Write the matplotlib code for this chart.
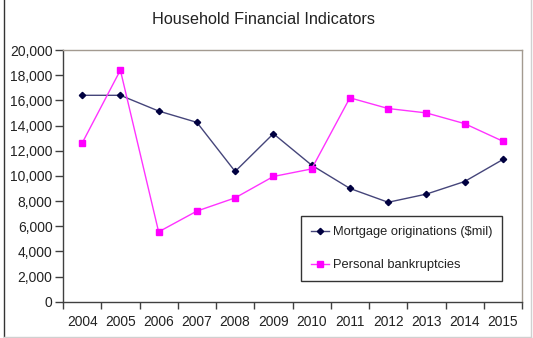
import matplotlib.pyplot as plt
import numpy as np
from matplotlib.lines import Line2D
from matplotlib.ticker import FuncFormatter, FixedLocator

plt.rcParams['font.family'] = ['Liberation Sans', 'DejaVu Sans']

years = ['2004', '2005', '2006', '2007', '2008', '2009',
         '2010', '2011', '2012', '2013', '2014', '2015']
mortgage = [16400, 16400, 15150, 14250, 10350, 13350,
            10850, 9000, 7900, 8550, 9550, 11300]
bankruptcies = [12600, 18400, 5550, 7200, 8250, 9950,
                10550, 16200, 15350, 15000, 14150, 12750]

text_col = '#222222'
W, H = 533, 338

fig = plt.figure(figsize=(W / 100, H / 100), dpi=100)
fig.patch.set_facecolor('white')

# outer chart frame
fig.add_artist(Line2D([3.5 / W, 3.5 / W], [0, 1], color='#333333', lw=1.0))
fig.add_artist(Line2D([531 / W, 531 / W], [0, 1], color='#d0d0d0', lw=1.0))
fig.add_artist(Line2D([3.5 / W, 531 / W], [0.8 / H, 0.8 / H], color='#d0d0d0', lw=1.0))

ax = fig.add_axes([63 / W, (H - 301.7) / H, (522 - 63) / W, (301.7 - 50) / H])
x = np.arange(len(years))

ax.plot(x, mortgage, color='#45457a', lw=1.0, marker='D', ms=3.2,
        mfc='#000040', mec='#000040', label='Mortgage originations ($mil)')
ax.plot(x, bankruptcies, color='#ff33ff', lw=1.0, marker='s', ms=4.0,
        mfc='#ff00ff', mec='#ff00ff', label='Personal bankruptcies')

ax.set_xlim(-0.5, len(years) - 0.5)
ax.set_ylim(0, 20000)
ax.set_yticks(np.arange(0, 20001, 2000))
ax.yaxis.set_major_formatter(FuncFormatter(lambda v, p: f'{int(v):,}'))

# tick marks sit between categories, labels sit under the points
ax.xaxis.set_major_locator(FixedLocator(np.arange(-0.5, len(years), 1.0)))
ax.xaxis.set_minor_locator(FixedLocator(x))
ax.set_xticklabels([])
ax.set_xticklabels(years, minor=True)
ax.tick_params(axis='x', which='major', length=5, width=1, color='#404040', direction='out')
ax.tick_params(axis='x', which='minor', length=0, pad=9.5, labelsize=9.9, labelcolor=text_col)
ax.tick_params(axis='y', length=6, width=1, color='#404040', direction='out',
               pad=1.5, labelsize=10, labelcolor=text_col)

for side in ['left', 'bottom']:
    ax.spines[side].set_color('#404040')
for side in ['top', 'right']:
    ax.spines[side].set_color('#a39a90')
for s in ax.spines.values():
    s.set_linewidth(1.0)

fig.text(263.5 / W, 1 - 20 / H, 'Household Financial Indicators', ha='center', va='center',
         fontsize=11.7, color=text_col)

leg = ax.legend(loc='upper left', bbox_to_anchor=(301 / W, 1 - 216 / H),
                bbox_transform=fig.transFigure, fontsize=9.3, frameon=True,
                fancybox=False, edgecolor='#333333', borderpad=0.8,
                labelspacing=1.6, handlelength=1.4, handletextpad=0.25,
                borderaxespad=0, framealpha=1)
leg.get_frame().set_linewidth(1.0)
for t in leg.get_texts():
    t.set_color(text_col)

fig.savefig('out.png', dpi=100, facecolor='white')
